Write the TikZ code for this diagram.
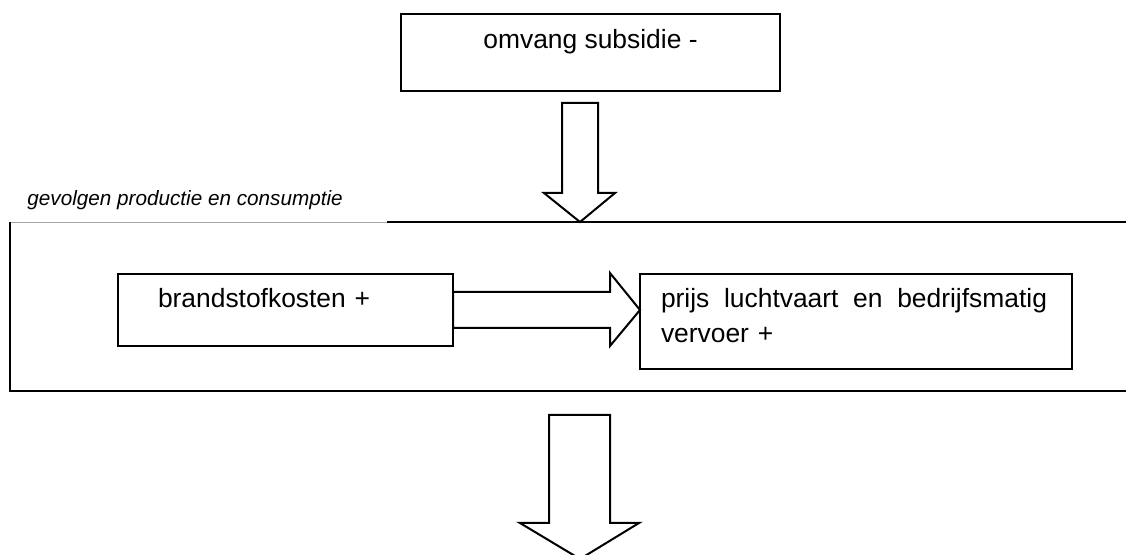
\documentclass[tikz,border=0pt]{standalone}
\usepackage{fontspec}
\setmainfont{Liberation Sans}
\usetikzlibrary{calc}

\begin{document}
\begin{tikzpicture}[x=0.5pt, y=-0.5pt,
    box/.style={draw=black, line width=1pt, inner sep=0pt, outer sep=0pt, anchor=north west,
      font=\fontsize{13.2}{17.5}\selectfont},
    blockarrow/.style={draw=black, line width=1pt, fill=white, line join=miter},
    frame/.style={draw=black, line width=1pt}]
  \useasboundingbox (0,0) rectangle (1126,555);
  \clip (0,0) rectangle (1126,555);
        % boxes
        \node [box, minimum width=189.5pt, text height=17.5pt, text depth=21pt] (subsidie) at (401,14) {omvang subsidie -};
        \node [box, align=left, text width=127.5pt, inner xsep=20pt, text height=17pt, text depth=19pt] (brandstof) at (118,274) {brandstofkosten +};
        \node [box, align=left, text width=195pt, inner xsep=10.5pt, text height=17pt, text depth=30.5pt] (prijs) at (640,274)
          {\leavevmode\hbox to 193pt{prijs\hfill luchtvaart\hfill en\hfill bedrijfsmatig}\\vervoer +};
        \node [anchor=base west, inner sep=0pt, font=\fontsize{10.35}{12}\selectfont\itshape] (gevolgen) at (27,206) {gevolgen productie en consumptie};
        % frame round production and consumption
        \draw [gray!70, line width=0.5pt] (10,223) -- (387,223);
        \draw [frame] (387,222) -- (1126,222);
        \draw [frame] (10,222) -- (10,391) -- (1126,391);
        % arrows
        \coordinate (tipA) at (580,222);
        \coordinate (tipB) at (prijs.west |- brandstof.east);
        \coordinate (tipC) at (580,559);
        \draw [blockarrow] (tipA) -- ++(35,-29) -- ++(-17,0) -- ++(0,-90) -- ++(-36,0) -- ++(0,90) -- ++(-18,0) -- cycle;
        \draw [blockarrow] (tipB) -- ++(-30,-37) -- ++(0,19) -- (brandstof.east |- 0,292) -- (brandstof.east |- 0,328) -- ++(157,0) -- ++(0,18) -- cycle;
        \draw [blockarrow] (tipC) -- ++(59,-36) -- ++(-29,0) -- ++(0,-108) -- ++(-61,0) -- ++(0,108) -- ++(-29,0) -- cycle;
\end{tikzpicture}
\end{document}
